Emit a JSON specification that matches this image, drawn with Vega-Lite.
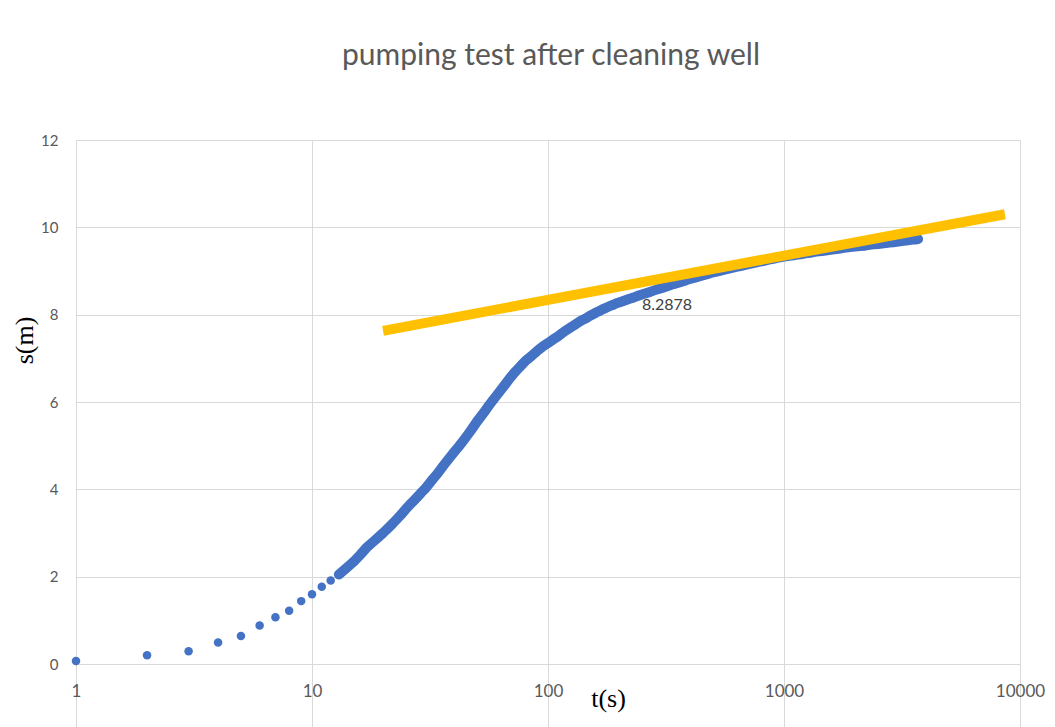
{
  "$schema": "https://vega.github.io/schema/vega-lite/v6.json",
  "width": 944,
  "height": 524,
  "autosize": "none",
  "padding": {"left": 76, "top": 140, "right": 35, "bottom": 63},
  "background": "white",
  "config": {"view": {"stroke": null}},
  "title": {"text": "pumping test after cleaning well", "font": "Lato", "fontSize": 30, "fontWeight": "normal", "color": "#595959", "anchor": "middle", "baseline": "alphabetic", "offset": 38, "dx": 3},
  "datasets": {
    "drawdown": [
      {"t": 1, "s": 0.07}, {"t": 2, "s": 0.2}, {"t": 3, "s": 0.29}, {"t": 4, "s": 0.49}, {"t": 5, "s": 0.64},
      {"t": 6, "s": 0.88}, {"t": 7, "s": 1.07}, {"t": 8, "s": 1.22}, {"t": 9, "s": 1.44}, {"t": 10, "s": 1.6},
      {"t": 11, "s": 1.77}, {"t": 12, "s": 1.91}, {"t": 13, "s": 2.05}, {"t": 14, "s": 2.2}, {"t": 15, "s": 2.34},
      {"t": 16, "s": 2.5}, {"t": 17, "s": 2.66}, {"t": 18, "s": 2.78}, {"t": 19, "s": 2.89}, {"t": 20, "s": 3.0},
      {"t": 21, "s": 3.11}, {"t": 22, "s": 3.22}, {"t": 23, "s": 3.33}, {"t": 24, "s": 3.44}, {"t": 25, "s": 3.55},
      {"t": 26, "s": 3.65}, {"t": 27, "s": 3.74}, {"t": 28, "s": 3.83}, {"t": 29, "s": 3.92}, {"t": 30, "s": 4.0},
      {"t": 32, "s": 4.19}, {"t": 34, "s": 4.36}, {"t": 36, "s": 4.54}, {"t": 38, "s": 4.7}, {"t": 40, "s": 4.85},
      {"t": 42, "s": 4.99}, {"t": 44, "s": 5.13}, {"t": 46, "s": 5.27}, {"t": 48, "s": 5.41}, {"t": 50, "s": 5.55},
      {"t": 52, "s": 5.67}, {"t": 54, "s": 5.79}, {"t": 56, "s": 5.91}, {"t": 58, "s": 6.02}, {"t": 60, "s": 6.12},
      {"t": 63, "s": 6.27}, {"t": 66, "s": 6.41}, {"t": 69, "s": 6.55}, {"t": 72, "s": 6.67}, {"t": 75, "s": 6.77},
      {"t": 78, "s": 6.87}, {"t": 81, "s": 6.96}, {"t": 84, "s": 7.03}, {"t": 87, "s": 7.1}, {"t": 90, "s": 7.17},
      {"t": 93, "s": 7.23}, {"t": 96, "s": 7.29}, {"t": 100, "s": 7.35}, {"t": 105, "s": 7.43}, {"t": 110, "s": 7.5},
      {"t": 115, "s": 7.58}, {"t": 120, "s": 7.65}, {"t": 125, "s": 7.71}, {"t": 130, "s": 7.77}, {"t": 135, "s": 7.83},
      {"t": 140, "s": 7.88}, {"t": 145, "s": 7.92}, {"t": 150, "s": 7.97}, {"t": 155, "s": 8.01}, {"t": 160, "s": 8.05},
      {"t": 165, "s": 8.08}, {"t": 170, "s": 8.12}, {"t": 175, "s": 8.15}, {"t": 180, "s": 8.18}, {"t": 185, "s": 8.21},
      {"t": 190, "s": 8.23}, {"t": 195, "s": 8.26}, {"t": 200, "s": 8.28}, {"t": 210, "s": 8.32}, {"t": 220, "s": 8.36},
      {"t": 230, "s": 8.39}, {"t": 240, "s": 8.43}, {"t": 250, "s": 8.46}, {"t": 260, "s": 8.49}, {"t": 270, "s": 8.52},
      {"t": 280, "s": 8.55}, {"t": 290, "s": 8.58}, {"t": 300, "s": 8.6}, {"t": 320, "s": 8.65}, {"t": 340, "s": 8.7},
      {"t": 360, "s": 8.74}, {"t": 380, "s": 8.78}, {"t": 400, "s": 8.82}, {"t": 420, "s": 8.85}, {"t": 440, "s": 8.88},
      {"t": 460, "s": 8.91}, {"t": 480, "s": 8.94}, {"t": 500, "s": 8.97}, {"t": 530, "s": 9.0}, {"t": 560, "s": 9.03},
      {"t": 590, "s": 9.06}, {"t": 620, "s": 9.09}, {"t": 660, "s": 9.12}, {"t": 700, "s": 9.15}, {"t": 740, "s": 9.18},
      {"t": 780, "s": 9.21}, {"t": 820, "s": 9.23}, {"t": 860, "s": 9.26}, {"t": 900, "s": 9.28}, {"t": 950, "s": 9.31},
      {"t": 1000, "s": 9.33}, {"t": 1050, "s": 9.35}, {"t": 1100, "s": 9.36}, {"t": 1150, "s": 9.38}, {"t": 1200, "s": 9.39},
      {"t": 1250, "s": 9.41}, {"t": 1300, "s": 9.42}, {"t": 1350, "s": 9.44}, {"t": 1400, "s": 9.45}, {"t": 1450, "s": 9.46},
      {"t": 1500, "s": 9.47}, {"t": 1600, "s": 9.49}, {"t": 1700, "s": 9.51}, {"t": 1800, "s": 9.53}, {"t": 1900, "s": 9.55},
      {"t": 2000, "s": 9.56}, {"t": 2100, "s": 9.57}, {"t": 2200, "s": 9.58}, {"t": 2300, "s": 9.6}, {"t": 2400, "s": 9.61},
      {"t": 2500, "s": 9.62}, {"t": 2600, "s": 9.63}, {"t": 2700, "s": 9.64}, {"t": 2800, "s": 9.65}, {"t": 2900, "s": 9.66},
      {"t": 3000, "s": 9.67}, {"t": 3100, "s": 9.68}, {"t": 3200, "s": 9.69}, {"t": 3300, "s": 9.7}, {"t": 3400, "s": 9.71},
      {"t": 3500, "s": 9.72}, {"t": 3600, "s": 9.72}, {"t": 3700, "s": 9.73}
    ],
    "fit": [{"t": 20, "s": 7.63}, {"t": 8630, "s": 10.3}],
    "label": [{"t": 250, "s": 8.22, "text": "8.2878"}]
  },
  "encoding": {
    "x": {"field": "t", "type": "quantitative", "scale": {"type": "log", "domain": [1, 10000], "nice": false},
      "axis": {"values": [1, 10, 100, 1000, 10000], "format": "d", "grid": true, "gridColor": "#d9d9d9", "domain": false,
        "tickSize": 63, "tickColor": "#d9d9d9", "labelPadding": -44, "labelFont": "Lato", "labelFontSize": 17, "labelColor": "#595959",
        "labelFlush": false, "title": "t(s)", "titleFont": "Liberation Serif", "titleFontSize": 26, "titleFontWeight": "normal", "titleColor": "black",
        "titleX": 532, "titleY": 34, "titleBaseline": "middle", "titleAnchor": null, "titleAlign": "center"}},
    "y": {"field": "s", "type": "quantitative", "scale": {"domain": [0, 12], "nice": false},
      "axis": {"values": [0, 2, 4, 6, 8, 10, 12], "grid": true, "gridColor": "#d9d9d9", "domain": false, "ticks": false,
        "labelPadding": 18, "labelFont": "Lato", "labelFontSize": 15, "labelColor": "#595959",
        "title": "s(m)", "titleFont": "Liberation Serif", "titleFontSize": 26, "titleFontWeight": "normal", "titleColor": "black",
        "titleX": -52, "titleY": 200, "titleBaseline": "middle", "titleAlign": "center", "titleAngle": -90}}
  },
  "layer": [
    {"data": {"name": "drawdown"}, "transform": [{"filter": "datum.t >= 13"}], "mark": {"type": "line", "color": "#4472C4", "strokeWidth": 10, "strokeCap": "round", "strokeJoin": "round"}},
    {"data": {"name": "drawdown"}, "mark": {"type": "circle", "size": 72, "color": "#4472C4", "opacity": 1}},
    {"data": {"name": "fit"}, "mark": {"type": "line", "color": "#FFC000", "strokeWidth": 10, "strokeCap": "butt"}},
    {"data": {"name": "label"}, "mark": {"type": "text", "align": "left", "baseline": "middle", "font": "Lato", "fontSize": 16, "color": "#404040"},
      "encoding": {"text": {"field": "text"}}}
  ]
}
